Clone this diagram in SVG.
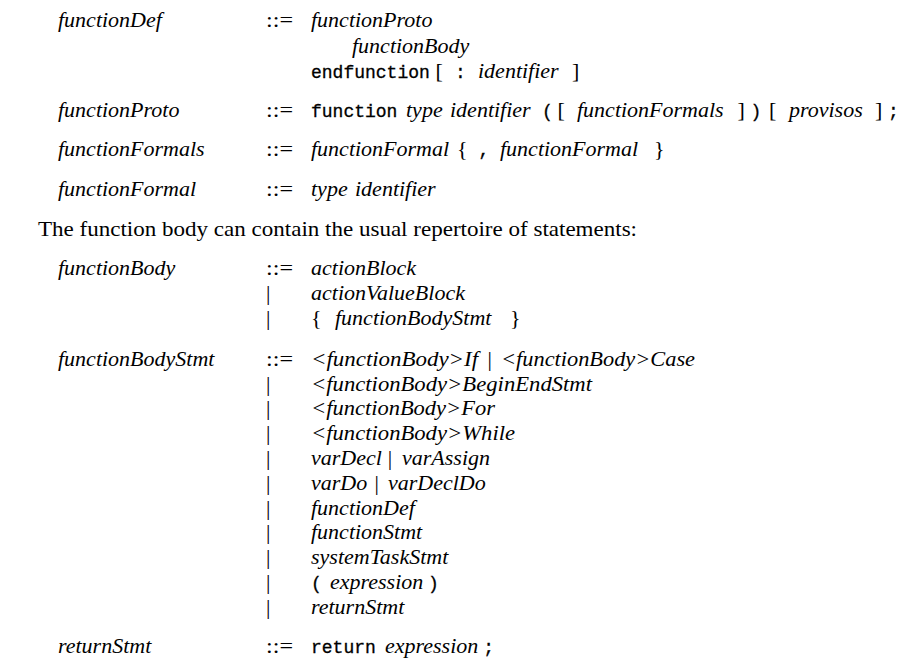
<svg xmlns="http://www.w3.org/2000/svg" width="920" height="668" viewBox="0 0 920 668">
<style>
text{fill:#000}
.it{font-family:"Liberation Serif",serif;font-style:italic;font-size:22px}
.rm{font-family:"Liberation Serif",serif;font-size:22px}
.tt{font-family:"Liberation Mono",monospace;font-size:18px;font-weight:normal;stroke:#000;stroke-width:0.3px}
</style>
<rect width="920" height="668" fill="#fff"/>
<g id="functionDef">
<text class="it" x="58" y="27">functionDef</text>
<text class="rm" x="266" y="27" textLength="27" lengthAdjust="spacingAndGlyphs">::=</text>
<text class="it" x="311" y="27">functionProto</text>
<text class="it" x="352" y="52.5">functionBody</text>
<text class="tt" x="311" y="77.5">endfunction</text>
<text class="rm" x="435.5" y="77.5">[</text>
<text class="tt" x="455" y="77.5">:</text>
<text class="it" x="478" y="77.5">identifier</text>
<text class="rm" x="572" y="77.5">]</text>
</g>
<g id="functionProto">
<text class="it" x="58" y="116.5">functionProto</text>
<text class="rm" x="266" y="116.5" textLength="27" lengthAdjust="spacingAndGlyphs">::=</text>
<text class="tt" x="311" y="116.5">function</text>
<text class="it" x="406" y="116.5">type</text>
<text class="it" x="450" y="116.5">identifier</text>
<text class="tt" x="542" y="116.5">(</text>
<text class="rm" x="557.5" y="116.5">[</text>
<text class="it" x="577" y="116.5">functionFormals</text>
<text class="rm" x="737.5" y="116.5">]</text>
<text class="tt" x="750.5" y="116.5">)</text>
<text class="rm" x="769" y="116.5">[</text>
<text class="it" x="789" y="116.5">provisos</text>
<text class="rm" x="875" y="116.5">]</text>
<text class="tt" x="888" y="116.5">;</text>
</g>
<g id="functionFormals">
<text class="it" x="58" y="156">functionFormals</text>
<text class="rm" x="266" y="156" textLength="27" lengthAdjust="spacingAndGlyphs">::=</text>
<text class="it" x="311" y="156">functionFormal</text>
<text class="rm" x="457" y="156">{</text>
<text class="tt" x="478.5" y="156">,</text>
<text class="it" x="500" y="156">functionFormal</text>
<text class="rm" x="654" y="156">}</text>
</g>
<g id="functionFormal">
<text class="it" x="58" y="195.5">functionFormal</text>
<text class="rm" x="266" y="195.5" textLength="27" lengthAdjust="spacingAndGlyphs">::=</text>
<text class="it" x="311" y="195.5">type</text>
<text class="it" x="355" y="195.5">identifier</text>
</g>
<text class="rm" x="38" y="235.5" textLength="599" lengthAdjust="spacingAndGlyphs">The function body can contain the usual repertoire of statements:</text>
<g id="functionBody">
<text class="it" x="58" y="275">functionBody</text>
<text class="rm" x="266" y="275" textLength="27" lengthAdjust="spacingAndGlyphs">::=</text>
<text class="it" x="311" y="275">actionBlock</text>
<text class="rm" x="266" y="300">|</text>
<text class="it" x="311" y="300">actionValueBlock</text>
<text class="rm" x="266" y="324.5">|</text>
<text class="rm" x="311" y="324.5">{</text>
<text class="it" x="335" y="324.5">functionBodyStmt</text>
<text class="rm" x="510" y="324.5">}</text>
</g>
<g id="functionBodyStmt">
<text class="it" x="58" y="366">functionBodyStmt</text>
<text class="rm" x="266" y="366" textLength="27" lengthAdjust="spacingAndGlyphs">::=</text>
<text class="it" x="311" y="366" textLength="167" lengthAdjust="spacingAndGlyphs">&lt;functionBody&gt;If</text>
<text class="rm" x="487.5" y="366">|</text>
<text class="it" x="501" y="366" textLength="194" lengthAdjust="spacingAndGlyphs">&lt;functionBody&gt;Case</text>
<text class="rm" x="266" y="390.7">|</text>
<text class="it" x="311" y="390.7" textLength="281" lengthAdjust="spacingAndGlyphs">&lt;functionBody&gt;BeginEndStmt</text>
<text class="rm" x="266" y="415.3">|</text>
<text class="it" x="311" y="415.3" textLength="184" lengthAdjust="spacingAndGlyphs">&lt;functionBody&gt;For</text>
<text class="rm" x="266" y="440">|</text>
<text class="it" x="311" y="440" textLength="204" lengthAdjust="spacingAndGlyphs">&lt;functionBody&gt;While</text>
<text class="rm" x="266" y="465">|</text>
<text class="it" x="311" y="465">varDecl</text>
<text class="rm" x="387.8" y="465">|</text>
<text class="it" x="402" y="465">varAssign</text>
<text class="rm" x="266" y="489.7">|</text>
<text class="it" x="311" y="489.7">varDo</text>
<text class="rm" x="374.5" y="489.7">|</text>
<text class="it" x="388" y="489.7">varDeclDo</text>
<text class="rm" x="266" y="514.7">|</text>
<text class="it" x="311" y="514.7">functionDef</text>
<text class="rm" x="266" y="539.3">|</text>
<text class="it" x="311" y="539.3">functionStmt</text>
<text class="rm" x="266" y="564.3">|</text>
<text class="it" x="311" y="564.3">systemTaskStmt</text>
<text class="rm" x="266" y="589.3">|</text>
<text class="tt" x="311" y="589.3">(</text>
<text class="it" x="330" y="589.3">expression</text>
<text class="tt" x="428" y="589.3">)</text>
<text class="rm" x="266" y="614">|</text>
<text class="it" x="311" y="614">returnStmt</text>
</g>
<g id="returnStmt">
<text class="it" x="58" y="653">returnStmt</text>
<text class="rm" x="266" y="653" textLength="27" lengthAdjust="spacingAndGlyphs">::=</text>
<text class="tt" x="311" y="653">return</text>
<text class="it" x="385" y="653">expression</text>
<text class="tt" x="483.3" y="653">;</text>
</g>
<g id="connectors"/>
</svg>
